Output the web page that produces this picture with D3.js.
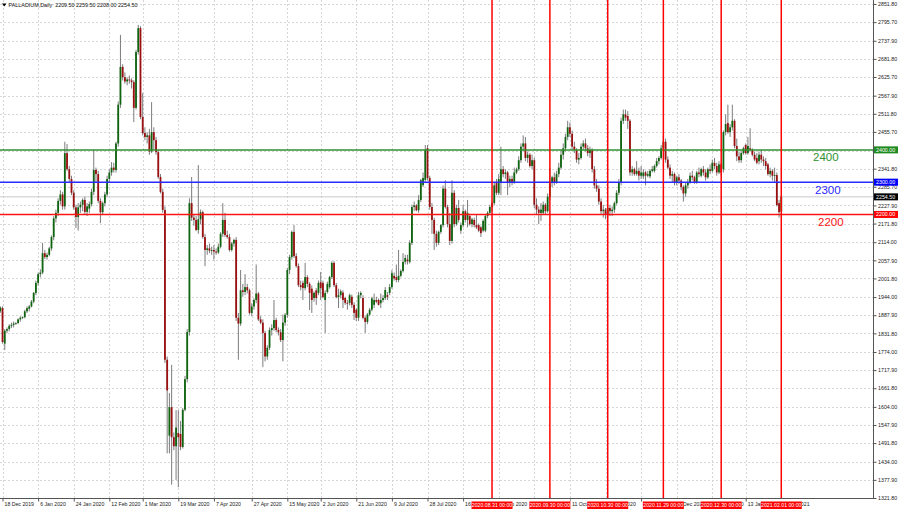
<!DOCTYPE html>
<html><head><meta charset="utf-8">
<script src="https://cdn.jsdelivr.net/npm/d3@7"></script>
<style>
body{margin:0;background:#fff;}
svg{display:block;font-family:"Liberation Sans",Arial,sans-serif;}
</style>
</head><body>
<svg id="chart" width="900" height="512"></svg>
<script>
// ---------- data ----------
const symbolTitle = "PALLADIUM,Daily  2209.50 2259.50 2208.00 2254.50";
const firstDay = "2019-12-17", lastDay = "2021-02-01";
const holidays = ["2020-12-25", "2021-01-01"];

const open = [
1900,1910,1800,1840,1845,1855,1858,1862,1864,1875,
1880,1882,1900,1908,1915,1930,1957,1988,2015,2020,
2080,2068,2075,2095,2130,2188,2205,2242,2262,2225,
2390,2340,2310,2267,2222,2192,2222,2230,2245,2208,
2218,2232,2270,2338,2325,2242,2207,2235,2262,2310,
2330,2345,2338,2420,2540,2657,2625,2612,2618,2615,
2610,2530,2703,2777,2502,2452,2440,2445,2395,2455,
2430,2393,2316,2270,2214,1750,1515,1603,1510,1482,
1523,1520,1480,1595,1690,1836,2235,2190,2183,2152,
2185,2207,2130,2090,2095,2088,2090,2085,2082,2100,
2140,2183,2136,2130,2090,2110,2121,1880,1862,1965,
1960,1975,1965,1895,1915,1935,1955,1875,1865,1833,
1760,1787,1842,1848,1873,1842,1835,1811,1865,1889,
2028,2068,2146,2071,2040,1981,1988,1972,2006,1985,
1970,1941,1965,1957,1990,1988,1935,1960,1975,2006,
2050,1981,1944,1950,1958,1941,1926,1926,1945,1920,
1905,1880,1950,1941,1880,1867,1890,1905,1920,1935,
1935,1925,1935,1941,1950,1957,1975,2010,2006,1997,
2010,2025,2053,2060,2053,2112,2223,2228,2213,2245,
2291,2307,2405,2313,2223,2183,2140,2112,2146,2167,
2280,2223,2170,2118,2267,2170,2220,2150,2167,2210,
2183,2195,2170,2183,2167,2167,2160,2150,2150,2195,
2205,2223,2235,2297,2267,2300,2340,2325,2330,2300,
2310,2300,2330,2340,2368,2410,2420,2375,2385,2350,
2368,2230,2215,2205,2205,2230,2210,2255,2300,2315,
2300,2325,2345,2385,2405,2440,2470,2450,2410,2400,
2370,2375,2410,2420,2405,2390,2400,2340,2290,2280,
2240,2210,2215,2200,2220,2210,2215,2235,2267,2300,
2490,2510,2505,2490,2330,2340,2325,2335,2320,2318,
2330,2320,2318,2335,2335,2350,2365,2375,2405,2425,
2370,2345,2320,2325,2300,2315,2305,2285,2265,2290,
2300,2320,2315,2300,2330,2320,2340,2330,2315,2340,
2335,2360,2350,2330,2355,2340,2455,2483,2455,2470,
2490,2412,2380,2368,2390,2415,2390,2405,2400,2385,
2375,2365,2385,2370,2365,2355,2325,2335,2320,2322,2235,2209.5];

const high = [
1915,1915,1845,1850,1860,1865,1868,1866,1878,1885,
1884,1905,1915,1920,1935,1960,1995,2020,2030,2112,
2090,2082,2100,2135,2195,2215,2250,2275,2270,2425,
2418,2350,2320,2275,2230,2235,2240,2250,2255,2235,
2240,2280,2400,2345,2335,2250,2240,2270,2320,2340,
2362,2360,2425,2550,2756,2665,2640,2625,2630,2622,
2616,2710,2787,2783,2576,2470,2455,2465,2548,2470,
2440,2400,2325,2280,2225,1760,1647,1734,1525,1594,
1594,1560,1600,1700,1845,2250,2316,2200,2195,2353,
2215,2212,2140,2105,2110,2100,2105,2095,2110,2145,
2235,2205,2150,2140,2115,2125,2130,1895,2028,1985,
2015,1985,1970,1925,1940,2045,1960,1885,1875,1840,
1795,1850,1860,1935,1880,1850,1845,1890,1895,2035,
2075,2150,2167,2080,2048,1995,1995,2050,2012,1990,
1980,1962,1972,1995,2022,1995,1965,1992,2010,2055,
2055,1988,1970,1968,1965,1945,1935,1955,1952,1928,
1910,1960,1962,1950,1885,1895,1910,1945,1955,1945,
1940,1955,1950,1975,1960,1985,2028,2020,2045,2090,
2030,2080,2075,2075,2120,2230,2240,2232,2260,2310,
2330,2415,2415,2320,2235,2190,2150,2150,2170,2290,
2306,2230,2205,2306,2275,2230,2245,2175,2230,2215,
2245,2200,2190,2190,2200,2172,2165,2185,2200,2210,
2230,2240,2300,2310,2325,2410,2350,2340,2335,2320,
2320,2345,2345,2380,2420,2445,2440,2395,2390,2385,
2375,2250,2225,2235,2240,2235,2265,2345,2320,2330,
2335,2360,2400,2420,2450,2490,2485,2460,2425,2405,
2390,2420,2430,2435,2415,2410,2405,2350,2310,2290,
2250,2230,2220,2230,2230,2225,2240,2275,2310,2500,
2525,2525,2520,2495,2350,2345,2365,2345,2350,2340,
2335,2335,2340,2350,2355,2375,2380,2415,2440,2435,
2380,2355,2335,2330,2320,2325,2310,2290,2300,2310,
2330,2335,2320,2335,2345,2345,2350,2340,2345,2355,
2370,2375,2360,2365,2360,2460,2510,2540,2480,2540,
2495,2435,2395,2395,2410,2420,2440,2467,2405,2395,
2390,2395,2400,2380,2375,2360,2345,2340,2345,2330,2245,2259.5];

const low = [
1895,1800,1780,1832,1838,1848,1850,1858,1860,1868,
1876,1878,1895,1900,1912,1925,1950,1980,2005,2015,
2062,2060,2070,2088,2120,2175,2195,2230,2215,2215,
2335,2300,2260,2215,2158,2150,2205,2210,2200,2195,
2205,2225,2260,2300,2235,2173,2200,2225,2255,2300,
2320,2330,2330,2410,2530,2615,2605,2600,2605,2590,
2486,2525,2695,2495,2445,2430,2420,2385,2390,2400,
2385,2310,2265,2205,1740,1460,1460,1363,1470,1378,
1355,1470,1475,1590,1680,1825,2180,2165,2148,2140,
2170,2125,2040,2075,2080,2075,2060,2075,2078,2095,
2130,2130,2125,2085,2085,2100,1870,1750,1855,1945,
1950,1955,1890,1885,1905,1925,1870,1860,1727,1745,
1750,1780,1825,1840,1835,1825,1805,1745,1855,1880,
2015,2060,2065,2035,1975,1965,1935,1965,1975,1904,
1895,1930,1920,1950,1935,1940,1833,1955,1970,2000,
1975,1940,1910,1940,1910,1920,1905,1918,1910,1873,
1870,1870,1940,1875,1833,1860,1885,1900,1910,1925,
1918,1910,1928,1935,1935,1950,1970,1995,1990,1990,
2005,2020,2045,2045,2048,2105,2210,2210,2205,2238,
2285,2300,2305,2215,2140,2090,2100,2105,2140,2160,
2218,2160,2105,2110,2160,2165,2175,2140,2160,2175,
2160,2165,2160,2160,2155,2145,2130,2145,2145,2188,
2200,2210,2228,2260,2260,2260,2315,2310,2260,2285,
2290,2295,2325,2335,2360,2395,2365,2360,2345,2340,
2220,2200,2170,2180,2200,2200,2205,2245,2285,2290,
2295,2315,2340,2370,2395,2430,2440,2400,2390,2360,
2355,2370,2400,2395,2380,2375,2330,2280,2270,2230,
2200,2190,2185,2190,2195,2195,2205,2230,2260,2290,
2480,2490,2465,2320,2320,2320,2320,2305,2310,2310,
2290,2315,2312,2330,2330,2345,2355,2370,2400,2360,
2340,2310,2300,2290,2290,2295,2275,2240,2255,2280,
2295,2305,2295,2295,2315,2315,2320,2305,2310,2325,
2330,2340,2320,2325,2320,2330,2445,2450,2440,2460,
2405,2365,2360,2360,2385,2385,2385,2395,2380,2365,
2355,2355,2360,2350,2340,2320,2315,2305,2300,2225,2190,2208];

const close = [
1912,1805,1840,1845,1855,1858,1862,1864,1875,1880,
1882,1900,1910,1915,1930,1957,1988,2015,2020,2080,
2068,2075,2095,2130,2188,2205,2242,2262,2225,2390,
2340,2310,2267,2222,2192,2222,2230,2245,2208,2225,
2232,2270,2338,2325,2242,2207,2235,2262,2310,2330,
2345,2338,2420,2540,2657,2625,2612,2618,2615,2610,
2530,2703,2777,2502,2452,2440,2445,2395,2455,2430,
2393,2316,2270,2214,1750,1655,1603,1510,1482,1540,
1510,1480,1595,1690,1836,2235,2190,2183,2152,2185,
2207,2130,2090,2095,2088,2090,2085,2082,2100,2140,
2183,2136,2130,2090,2110,2121,1880,1862,1965,1960,
1975,1965,1895,1915,1935,1955,1875,1865,1833,1760,
1787,1842,1848,1873,1842,1835,1811,1865,1889,2028,
2068,2146,2071,2040,1981,1975,1972,2006,1985,1957,
1935,1957,1941,1988,1972,1944,1957,1985,2006,2050,
1981,1944,1950,1962,1935,1926,1925,1950,1920,1895,
1880,1950,1957,1880,1867,1890,1905,1940,1935,1930,
1920,1935,1941,1966,1945,1975,2018,2002,1997,2010,
2025,2053,2065,2055,2112,2223,2228,2213,2245,2306,
2313,2400,2313,2223,2183,2140,2112,2146,2167,2280,
2223,2170,2118,2267,2170,2220,2183,2167,2210,2183,
2205,2170,2185,2167,2160,2150,2142,2180,2195,2205,
2223,2235,2290,2267,2310,2340,2325,2330,2300,2310,
2300,2330,2340,2368,2410,2420,2375,2385,2350,2368,
2230,2215,2205,2215,2230,2210,2255,2300,2315,2300,
2325,2345,2385,2405,2440,2470,2450,2410,2400,2370,
2375,2410,2420,2405,2390,2400,2340,2290,2280,2240,
2210,2215,2200,2220,2210,2215,2235,2267,2300,2490,
2510,2500,2490,2330,2340,2325,2335,2320,2330,2330,
2320,2325,2335,2340,2350,2365,2375,2405,2425,2370,
2345,2320,2325,2300,2315,2305,2285,2265,2290,2300,
2320,2315,2300,2330,2325,2340,2330,2315,2340,2335,
2360,2350,2330,2355,2330,2455,2480,2455,2470,2490,
2412,2380,2368,2390,2405,2390,2412,2400,2385,2370,
2360,2385,2370,2365,2350,2325,2335,2320,2322,2229,2207,2254.5];

const priceTicks = [2851.8,2795.7,2737.9,2681.8,2625.7,2567.9,2511.8,2455.7,2397.9,2341.8,
  2285.7,2227.9,2171.8,2114.0,2057.9,2001.8,1944.0,1887.9,1831.8,1774.0,1717.9,1661.8,
  1604.0,1547.9,1491.8,1434.0,1377.9,1321.8];

const dateTicks = ["2019-12-18","2020-01-06","2020-01-24","2020-02-12","2020-03-01","2020-03-19",
  "2020-04-07","2020-04-27","2020-05-15","2020-06-02","2020-06-21","2020-07-09","2020-07-28",
  "2020-08-16","2020-09-03","2020-09-22","2020-10-11","2020-10-29","2020-11-17","2020-12-06",
  "2020-12-24","2021-01-13","2021-02-01"];

const markerDates = ["2020-08-31","2020-09-30","2020-10-30","2020-11-29","2020-12-30","2021-02-01"];

const levelPrices = [2400, 2300, 2200];
const levelNames = ["2400", "2300", "2200"];
const bidPrice = 2254.5;
const priceDomain = [1321.8, 2851.8];

// ---------- styles ----------
const levelColors = ["#2f922f", "#2a2aff", "#ff1414"];
const levelBoxColors = ["#1f8a1f", "#0000ff", "#ff0000"];
const levelTextX = [813, 815, 818];
const bullColor = "#0f640f", bearColor = "#9a0f0f", wickColor = "#7c7c7c";
const smallFont = 5.3;

// ---------- build ----------
const parse = d3.timeParse("%Y-%m-%d");
const key = d3.timeFormat("%Y-%m-%d");
const dates = d3.timeDay.range(parse(firstDay), d3.timeDay.offset(parse(lastDay), 1))
  .filter(d => d.getDay() !== 6 && !holidays.includes(key(d)));
const indexOf = new Map(dates.map((d, i) => [key(d), i]));

const plotRight = 873, plotBottom = 498;
const barStep = 2.225;
const x = d3.scaleLinear().domain([0, dates.length - 1]).range([0.3, 0.3 + barStep * (dates.length - 1)]);
const y = d3.scaleLinear().domain(priceDomain).range([498, 4]);

const svg = d3.select("#chart");
svg.append("rect").attr("width", 900).attr("height", 512).attr("fill", "#fff");
const defs = svg.append("defs");
defs.append("clipPath").attr("id", "clip").append("rect")
  .attr("x", 0).attr("y", 0).attr("width", plotRight).attr("height", plotBottom);
const inner = svg.append("g").attr("clip-path", "url(#clip)");

// grid
inner.append("g").selectAll("line").data(priceTicks).join("line")
  .attr("x1", 0).attr("x2", plotRight)
  .attr("y1", d => Math.round(y(d)) + 0.5).attr("y2", d => Math.round(y(d)) + 0.5)
  .attr("stroke", "#d6d6d6").attr("stroke-dasharray", "2,2");
inner.append("g").selectAll("line").data(dateTicks).join("line")
  .attr("x1", d => Math.round(x(indexOf.get(d))) + 0.5).attr("x2", d => Math.round(x(indexOf.get(d))) + 0.5)
  .attr("y1", 0).attr("y2", plotBottom)
  .attr("stroke", "#d6d6d6").attr("stroke-dasharray", "2,2");

// bid line
inner.append("line").attr("x1", 0).attr("x2", plotRight)
  .attr("y1", y(bidPrice)).attr("y2", y(bidPrice))
  .attr("stroke", "#c8c8c8").attr("stroke-width", 1);

// candles
const idx = d3.range(dates.length);
const cg = inner.append("g");
cg.selectAll("line").data(idx).join("line")
  .attr("x1", i => x(i)).attr("x2", i => x(i))
  .attr("y1", i => y(high[i])).attr("y2", i => y(low[i]))
  .attr("stroke", wickColor).attr("stroke-width", 1);
cg.selectAll("rect").data(idx).join("rect")
  .attr("x", i => x(i) - 0.9).attr("width", 1.8)
  .attr("y", i => y(Math.max(open[i], close[i])))
  .attr("height", i => Math.max(0.8, Math.abs(y(open[i]) - y(close[i]))))
  .attr("fill", i => close[i] >= open[i] ? bullColor : bearColor);

// horizontal level lines
inner.append("g").selectAll("line").data(levelPrices).join("line")
  .attr("x1", 0).attr("x2", plotRight)
  .attr("y1", d => y(d)).attr("y2", d => y(d))
  .attr("stroke", (d, i) => levelColors[i]).attr("stroke-width", 1.5);

// vertical marker lines
inner.append("g").selectAll("line").data(markerDates).join("line")
  .attr("x1", d => x(indexOf.get(d))).attr("x2", d => x(indexOf.get(d)))
  .attr("y1", 0).attr("y2", plotBottom)
  .attr("stroke", "#ff0000").attr("stroke-width", 1.5);

// level texts
inner.append("g").selectAll("text").data(levelPrices).join("text")
  .attr("x", (d, i) => levelTextX[i]).attr("y", d => y(d) + 11.5)
  .attr("fill", (d, i) => levelColors[i]).attr("font-size", 11.5)
  .text((d, i) => levelNames[i]);

// frame
svg.append("line").attr("x1", plotRight + 0.5).attr("x2", plotRight + 0.5).attr("y1", 0).attr("y2", plotBottom + 1)
  .attr("stroke", "#555");
svg.append("line").attr("x1", 0).attr("x2", plotRight + 1).attr("y1", plotBottom + 0.5).attr("y2", plotBottom + 0.5)
  .attr("stroke", "#555");

// price boxes (data for right-side tags)
const boxes = levelPrices.map((p, i) => ({p, c: levelBoxColors[i]}));
boxes.splice(2, 0, {p: bidPrice, c: "#000"});

// right axis (a tick label hidden under a price tag is not drawn, as in the terminal)
const hiddenUnderTag = t => boxes.some(b => Math.abs(y(b.p) - y(t)) < 3);
const yAxis = d3.axisRight(y).tickValues(priceTicks).tickSize(3).tickPadding(1.5)
  .tickFormat(d => hiddenUnderTag(d) ? "" : d3.format(".2f")(d));
const ya = svg.append("g").attr("transform", `translate(${plotRight + 0.5},0)`).call(yAxis);
ya.select(".domain").remove();
ya.selectAll("line").attr("stroke", "#555");
ya.selectAll("text").attr("font-size", smallFont).attr("fill", "#222").attr("font-family", "Liberation Sans, Arial, sans-serif");

// price tags
const bg = svg.append("g");
bg.selectAll("rect").data(boxes).join("rect")
  .attr("x", plotRight + 1).attr("width", 24).attr("y", d => y(d.p) - 3.5).attr("height", 7)
  .attr("fill", d => d.c);
bg.selectAll("text").data(boxes).join("text")
  .attr("x", plotRight + 3).attr("y", d => y(d.p) + 1.9)
  .attr("font-size", smallFont).attr("fill", "#fff").text(d => d3.format(".2f")(d.p));

// marker label geometry
const markerW = 41;
const markerSpans = markerDates.map(d => [x(indexOf.get(d)) - markerW / 2, x(indexOf.get(d)) + markerW / 2]);

// bottom axis, date labels clipped where the marker tags cover them
const gaps = [];
let from = -10;
markerSpans.forEach(([a, b]) => { gaps.push([from, a]); from = b; });
gaps.push([from, 910]);
const dclip = defs.append("clipPath").attr("id", "dateclip");
gaps.forEach(([a, b]) => dclip.append("rect").attr("x", a).attr("y", 490).attr("width", b - a).attr("height", 30));

const fmtLabel = d3.timeFormat("%-d %b %Y");
const xAxis = d3.axisBottom(x).tickValues(dateTicks.map(d => indexOf.get(d)))
  .tickSize(3).tickFormat(i => fmtLabel(dates[i]));
const xaWrap = svg.append("g").attr("clip-path", "url(#dateclip)");
const xa = xaWrap.append("g").attr("transform", `translate(0,${plotBottom + 0.5})`).call(xAxis);
xa.select(".domain").remove();
xa.selectAll("line").attr("stroke", "#555");
xa.selectAll("text").attr("font-size", 5.2).attr("fill", "#222").attr("text-anchor", "start")
  .attr("x", 1.5).attr("y", 5.5).attr("dy", "0.35em").attr("font-family", "Liberation Sans, Arial, sans-serif");
// drop labels that would be completely covered by a marker tag
xa.selectAll(".tick").each(function(i) {
  const t = d3.select(this).select("text");
  const x0 = x(i) + 1.5, x1 = x0 + t.node().getComputedTextLength();
  if (markerSpans.some(([a, b]) => x0 >= a && x1 <= b)) t.remove();
});

// marker tags
const fmtMarker = d3.timeFormat("%Y.%m.%d 00:00");
const mg = svg.append("g");
mg.selectAll("rect").data(markerDates).join("rect")
  .attr("x", (d, k) => markerSpans[k][0]).attr("width", markerW)
  .attr("y", 501.5).attr("height", 7.5).attr("fill", "#ff0000");
mg.selectAll("text").data(markerDates).join("text")
  .attr("x", d => x(indexOf.get(d))).attr("y", 507.3).attr("text-anchor", "middle")
  .attr("font-size", 5.2).attr("fill", "#fff").text(d => fmtMarker(parse(d)));

// title
svg.append("path").attr("d", "M2,3.5 L6.5,3.5 L4.25,6.5 Z").attr("fill", "#000");
svg.append("text").attr("x", 8.5).attr("y", 7.2).attr("font-size", 5.4).attr("fill", "#111")
  .attr("xml:space", "preserve").style("white-space", "pre").text(symbolTitle);
</script>
</body></html>
